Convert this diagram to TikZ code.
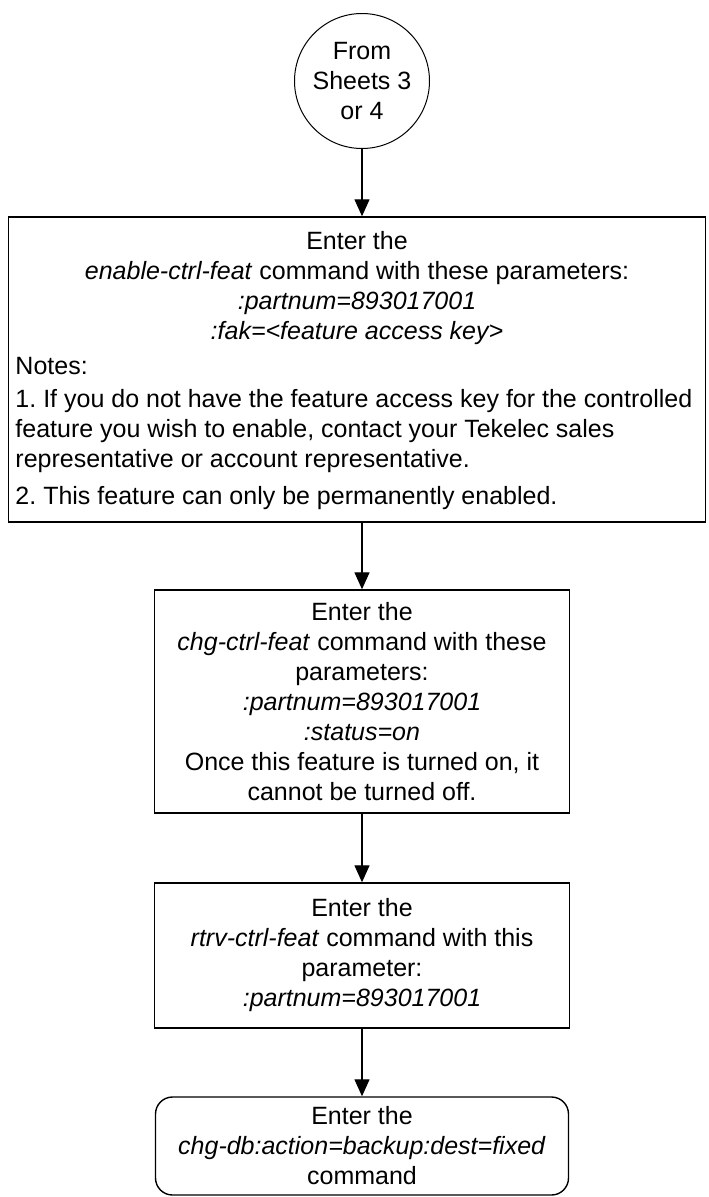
\documentclass[tikz,border=0pt]{standalone}
\usepackage{fontspec}
\setmainfont{Liberation Sans}
\usetikzlibrary{arrows.meta}
\begin{document}
\begin{tikzpicture}[x=1pt,y=1pt,
  every node/.style={font=\fontsize{25}{30}\selectfont},
  box/.style={draw, line width=1.4pt, rectangle, align=center, inner sep=0pt},
  notebox/.style={draw, line width=1.4pt, rectangle, inner xsep=7pt, inner ysep=14pt},
  conn/.style={line width=1.3pt, -{Triangle[width=15pt,length=17pt]}}]
\useasboundingbox[fill=white] (0,0) rectangle (709,-1197);
\node[draw, circle, line width=1pt, minimum size=135pt, align=center, inner sep=0pt] (start) at (362,-81) {From\\Sheets 3\\or 4};
\node[notebox] (b1) at (357,-369.5)
{\begin{minipage}[t][277pt][t]{683pt}\frenchspacing
{\centering Enter the\\ \textit{enable-ctrl-feat} command with these parameters:\\ \textit{:partnum=893017001}\\ \textit{:fak=<feature access key>}\par}
\vspace{5pt}\raggedright Notes:\par\vspace{3pt}
1. If you do not have the feature access key for the controlled\\ feature you wish to enable, contact your Tekelec sales\\ representative or account representative.\par\vspace{7pt}
2. This feature can only be permanently enabled.\par
\end{minipage}};
\node[box, minimum width=415pt, minimum height=223pt] (b2) at (362,-701.5)
{Enter the\\ \textit{chg-ctrl-feat} command with these\\ parameters:\\ \textit{:partnum=893017001}\\ \textit{:status=on}\\ Once this feature is turned on, it\\ cannot be turned off.};
\node[box, minimum width=415pt, minimum height=145pt] (b3) at (362,-955.5)
{Enter the\\ \textit{rtrv-ctrl-feat} command with this\\ parameter:\\ \textit{:partnum=893017001}};
\node[box, rounded corners=17pt, minimum width=413pt, minimum height=98pt] (b4) at (362,-1146)
{Enter the\\ \textit{chg-db:action=backup:dest=fixed}\\ command};
\draw[conn] (start.south) -- (start.south |- b1.north);
\draw[conn] (b2.north |- b1.south) -- (b2.north);
\draw[conn] (b2.south) -- (b3.north);
\draw[conn] (b3.south) -- (b4.north);
\end{tikzpicture}
\end{document}
